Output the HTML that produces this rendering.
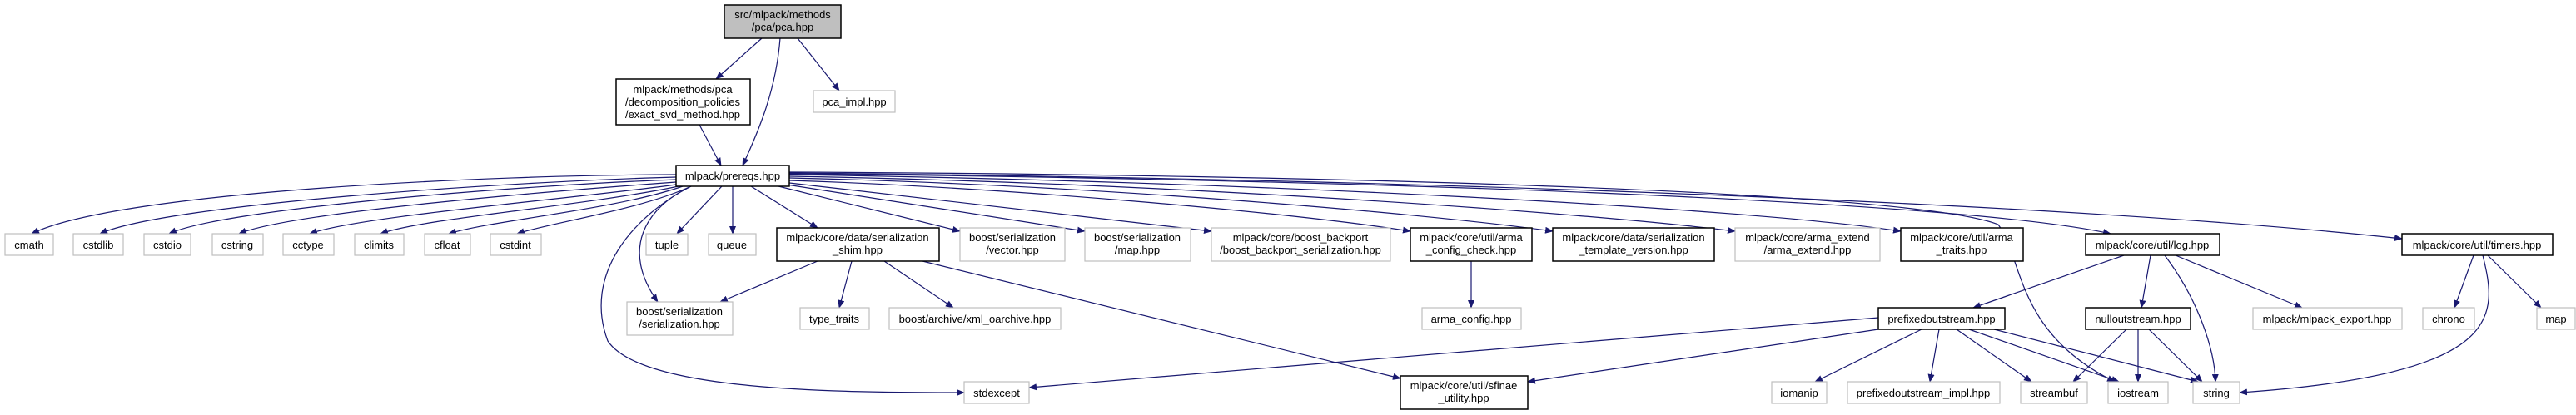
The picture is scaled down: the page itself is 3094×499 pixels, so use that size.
<!DOCTYPE html>
<html><head><meta charset="utf-8"><style>
html,body{margin:0;padding:0;background:#fff;width:3094px;height:499px;overflow:hidden}
svg{display:block}
text{font-family:"Liberation Sans",Arial,sans-serif;font-size:13px;fill:#000;text-anchor:middle}
.e{fill:none;stroke:#191970;stroke-width:1.2}
.d{fill:#fff;stroke:#000;stroke-width:1.5}
.x{fill:#fff;stroke:#bfbfbf;stroke-width:1.2}
</style></head><body>
<svg width="3094" height="499" viewBox="0 0 3094 499" xmlns="http://www.w3.org/2000/svg">
<defs><marker id="a" markerWidth="10" markerHeight="8" refX="9" refY="4" orient="auto" markerUnits="userSpaceOnUse"><path d="M0,0L10,4L0,8z" fill="#191970"/></marker></defs>
<g class="e" marker-end="url(#a)">
<path d="M915,46L860,95"/>
<path d="M937,46C932,110 910,160 892,199"/>
<path d="M958,46L1008,109"/>
<path d="M840,150L866,199"/>
<!-- prereqs left fan -->
<path d="M812,210C600,210 140,230 38,281"/>
<path d="M812,213C620,218 200,245 120,281"/>
<path d="M812,216C640,222 270,250 203,281"/>
<path d="M812,219C660,230 350,255 287,281"/>
<path d="M812,222C680,240 430,260 372,281"/>
<path d="M815,224C700,248 510,262 457,281"/>
<path d="M820,224C740,252 590,265 539,281"/>
<path d="M830,224C770,252 660,268 621,281"/>
<path d="M867,224L813,281"/>
<path d="M880,224L880,281"/>
<path d="M902,224L982,274"/>
<path d="M830,224C775,250 745,300 790,363"/>
<path d="M830,224C760,260 700,330 730,410C770,470 1000,472 1158,472"/>
<!-- prereqs right fan -->
<path d="M935,224L1153,278"/>
<path d="M945,222L1303,278"/>
<path d="M948,220L1455,278"/>
<path d="M948,217C1200,225 1550,255 1694,278"/>
<path d="M948,214C1300,222 1700,255 1865,278"/>
<path d="M948,212C1400,220 1900,255 2084,278"/>
<path d="M948,210C1500,218 2100,250 2283,278"/>
<path d="M948,209C1600,215 2350,240 2535,281"/>
<path d="M948,208C1700,215 2500,245 2885,287"/>
<path d="M948,207C1600,210 2300,230 2400,270C2430,310 2420,400 2540,459"/>
<!-- shim -->
<path d="M982,314L865,363"/>
<path d="M1023,314L1008,370"/>
<path d="M1062,314L1145,370"/>
<path d="M1108,314L1682,455"/>
<path d="M1767,314L1767,370"/>
<!-- log -->
<path d="M2551,307L2370,370"/>
<path d="M2583,307L2572,370"/>
<path d="M2600,307C2640,360 2660,420 2661,459"/>
<path d="M2613,307L2765,370"/>
<!-- timers -->
<path d="M2971,307L2948,370"/>
<path d="M2988,307L3052,370"/>
<path d="M2982,307C3000,380 3010,450 2690,472"/>
<!-- prefixed -->
<path d="M2256,382L1236,466"/>
<path d="M2256,396L1835,459"/>
<path d="M2308,396L2180,459"/>
<path d="M2329,396L2318,459"/>
<path d="M2350,396L2440,459"/>
<path d="M2365,396L2545,459"/>
<path d="M2395,396L2640,459"/>
<!-- null -->
<path d="M2554,396L2490,459"/>
<path d="M2568,396L2568,459"/>
<path d="M2581,396L2645,459"/>
</g>
<!-- nodes -->
<rect x="870" y="6" width="140" height="40" fill="#bfbfbf" stroke="#000" stroke-width="1.5"/>
<text x="940" y="22">src/mlpack/methods</text><text x="940" y="37">/pca/pca.hpp</text>
<rect class="d" x="740" y="95" width="161" height="55"/>
<text x="820" y="112">mlpack/methods/pca</text><text x="820" y="127">/decomposition_policies</text><text x="820" y="142">/exact_svd_method.hpp</text>
<rect class="x" x="977" y="109" width="98" height="26"/><text x="1026" y="127">pca_impl.hpp</text>
<rect class="d" x="812" y="199" width="136" height="25"/><text x="880" y="216">mlpack/prereqs.hpp</text>
<rect class="x" x="6" y="281" width="58" height="26"/><text x="35" y="299">cmath</text>
<rect class="x" x="88" y="281" width="60" height="26"/><text x="118" y="299">cstdlib</text>
<rect class="x" x="173" y="281" width="56" height="26"/><text x="201" y="299">cstdio</text>
<rect class="x" x="255" y="281" width="61" height="26"/><text x="285" y="299">cstring</text>
<rect class="x" x="340" y="281" width="61" height="26"/><text x="370" y="299">cctype</text>
<rect class="x" x="426" y="281" width="59" height="26"/><text x="455" y="299">climits</text>
<rect class="x" x="510" y="281" width="55" height="26"/><text x="537" y="299">cfloat</text>
<rect class="x" x="589" y="281" width="61" height="26"/><text x="619" y="299">cstdint</text>
<rect class="x" x="776" y="281" width="50" height="26"/><text x="801" y="299">tuple</text>
<rect class="x" x="851" y="281" width="57" height="26"/><text x="879" y="299">queue</text>
<rect class="d" x="933" y="274" width="195" height="40"/><text x="1030" y="290">mlpack/core/data/serialization</text><text x="1030" y="305">_shim.hpp</text>
<rect class="x" x="1153" y="274" width="126" height="40"/><text x="1216" y="290">boost/serialization</text><text x="1216" y="305">/vector.hpp</text>
<rect class="x" x="1303" y="274" width="127" height="40"/><text x="1366" y="290">boost/serialization</text><text x="1366" y="305">/map.hpp</text>
<rect class="x" x="1455" y="274" width="215" height="40"/><text x="1562" y="290">mlpack/core/boost_backport</text><text x="1562" y="305">/boost_backport_serialization.hpp</text>
<rect class="d" x="1694" y="274" width="146" height="40"/><text x="1767" y="290">mlpack/core/util/arma</text><text x="1767" y="305">_config_check.hpp</text>
<rect class="d" x="1865" y="274" width="194" height="40"/><text x="1962" y="290">mlpack/core/data/serialization</text><text x="1962" y="305">_template_version.hpp</text>
<rect class="x" x="2084" y="274" width="174" height="40"/><text x="2171" y="290">mlpack/core/arma_extend</text><text x="2171" y="305">/arma_extend.hpp</text>
<rect class="d" x="2283" y="274" width="147" height="40"/><text x="2356" y="290">mlpack/core/util/arma</text><text x="2356" y="305">_traits.hpp</text>
<rect class="d" x="2505" y="281" width="161" height="26"/><text x="2585" y="299">mlpack/core/util/log.hpp</text>
<rect class="d" x="2885" y="281" width="181" height="26"/><text x="2975" y="299">mlpack/core/util/timers.hpp</text>
<rect class="x" x="753" y="363" width="127" height="40"/><text x="816" y="379">boost/serialization</text><text x="816" y="394">/serialization.hpp</text>
<rect class="x" x="961" y="370" width="83" height="26"/><text x="1002" y="388">type_traits</text>
<rect class="x" x="1068" y="370" width="206" height="26"/><text x="1171" y="388">boost/archive/xml_oarchive.hpp</text>
<rect class="x" x="1708" y="370" width="119" height="26"/><text x="1767" y="388">arma_config.hpp</text>
<rect class="d" x="2256" y="370" width="152" height="26"/><text x="2332" y="388">prefixedoutstream.hpp</text>
<rect class="d" x="2505" y="370" width="126" height="26"/><text x="2568" y="388">nulloutstream.hpp</text>
<rect class="x" x="2706" y="370" width="179" height="26"/><text x="2795" y="388">mlpack/mlpack_export.hpp</text>
<rect class="x" x="2910" y="370" width="62" height="26"/><text x="2941" y="388">chrono</text>
<rect class="x" x="3047" y="370" width="46" height="26"/><text x="3070" y="388">map</text>
<rect class="x" x="1158" y="459" width="78" height="26"/><text x="1197" y="477">stdexcept</text>
<rect class="d" x="1682" y="452" width="153" height="40"/><text x="1758" y="468">mlpack/core/util/sfinae</text><text x="1758" y="483">_utility.hpp</text>
<rect class="x" x="2128" y="459" width="66" height="26"/><text x="2161" y="477">iomanip</text>
<rect class="x" x="2219" y="459" width="183" height="26"/><text x="2310" y="477">prefixedoutstream_impl.hpp</text>
<rect class="x" x="2427" y="459" width="80" height="26"/><text x="2467" y="477">streambuf</text>
<rect class="x" x="2532" y="459" width="72" height="26"/><text x="2568" y="477">iostream</text>
<rect class="x" x="2634" y="459" width="56" height="26"/><text x="2662" y="477">string</text>
</svg>
</body></html>
